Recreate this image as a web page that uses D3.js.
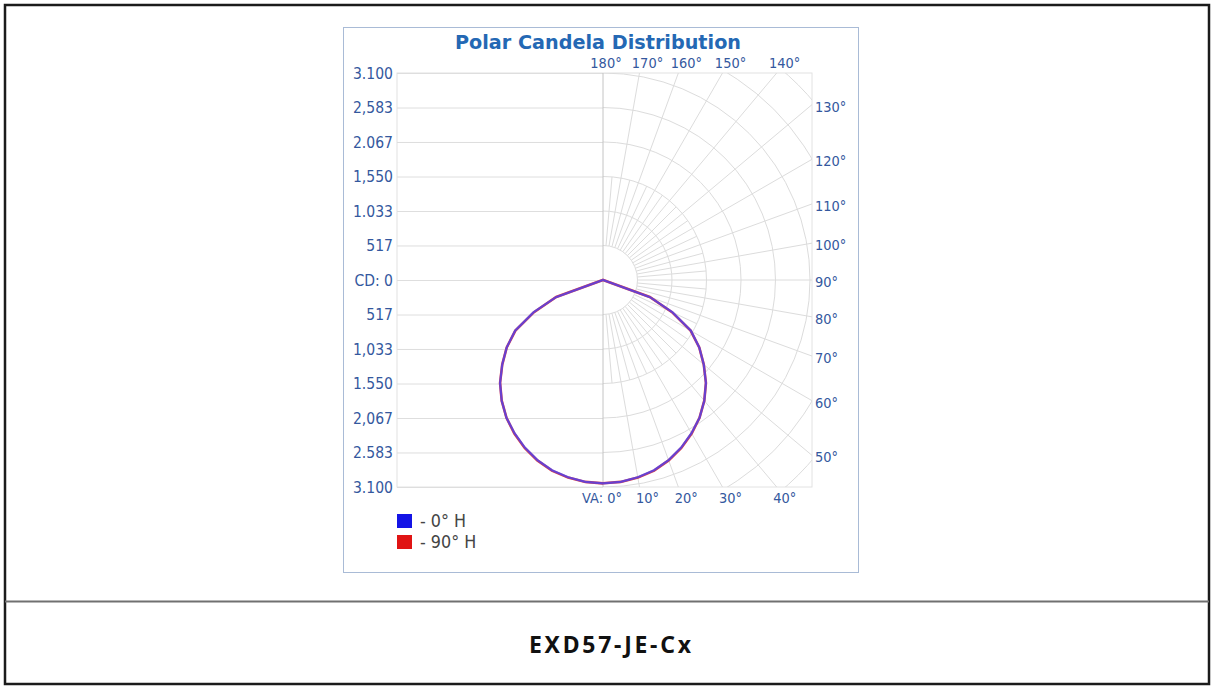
<!DOCTYPE html>
<html>
<head>
<meta charset="utf-8">
<script src="https://cdn.jsdelivr.net/npm/d3@7"></script>
<style>
  body { margin: 0; background: #fff; }
  svg { display: block; }
</style>
</head>
<body>
<div id="chart"></div>
<script>
// Polar candela distribution - EXD57-JE-Cx

// Vertical angles (deg) and candela values per horizontal plane
const vaAngles = [0, 5, 10, 15, 20, 25, 30, 35, 40, 45, 50, 55, 60, 65, 70, 75, 80, 85, 90,
  95, 100, 105, 110, 115, 120, 125, 130, 135, 140, 145, 150, 155, 160, 165, 170, 175, 180];
const cd0H = [3045, 3035, 3000, 2950, 2870, 2770, 2650, 2520, 2360, 2180, 1970, 1760, 1520, 1150, 750, 0, 0, 0, 0,
  0, 0, 0, 0, 0, 0, 0, 0, 0, 0, 0, 0, 0, 0, 0, 0, 0, 0];
const cd90H = [3045, 3035, 3005, 2955, 2875, 2775, 2655, 2520, 2360, 2180, 1970, 1760, 1515, 1140, 745, 0, 0, 0, 0,
  0, 0, 0, 0, 0, 0, 0, 0, 0, 0, 0, 0, 0, 0, 0, 0, 0, 0];

// Candela axis
const cdTickValues = [-3100, -2583, -2067, -1550, -1033, -517, 0, 517, 1033, 1550, 2067, 2583, 3100];
const cdTickLabels = ["3.100", "2,583", "2.067", "1,550", "1.033", "517", "CD: 0",
  "517", "1,033", "1.550", "2,067", "2.583", "3.100"];
const ringValues = [517, 1033, 1550, 2067, 2583, 3100, 3617, 4133];

// Angle labels
const angleTicks = [0, 10, 20, 30, 40, 50, 60, 70, 80, 90, 100, 110, 120, 130, 140, 150, 160, 170, 180];
const angleLabels = ["VA: 0°", "10°", "20°", "30°", "40°", "50°", "60°", "70°", "80°", "90°",
  "100°", "110°", "120°", "130°", "140°", "150°", "160°", "170°", "180°"];

const legendLabels = ["- 0° H", "- 90° H"];
const seriesColors = ["#4040ff", "#e04040"];
const legendColors = ["#1414e6", "#e01414"];

const W = 1213, H = 686;
const plot = { left: 397, right: 812, top: 73, bottom: 487 };
const labelColor = "#34589e";
const font = "'DejaVu Sans', Verdana, sans-serif";

const svg = d3.select("#chart").append("svg")
  .attr("width", W)
  .attr("height", H);

// Page frame
svg.append("rect")
  .attr("x", 5).attr("y", 5)
  .attr("width", 1204).attr("height", 679)
  .attr("fill", "#fff")
  .attr("stroke", "#1b1b1b")
  .attr("stroke-width", 2.5);

svg.append("line")
  .attr("x1", 5).attr("x2", 1209)
  .attr("y1", 601.5).attr("y2", 601.5)
  .attr("stroke", "#707070")
  .attr("stroke-width", 2);

svg.append("text")
  .attr("x", 610).attr("y", 653)
  .attr("text-anchor", "middle")
  .attr("textLength", 162)
  .attr("lengthAdjust", "spacing")
  .style("font-family", "'Noto Sans', 'Open Sans', sans-serif")
  .style("font-weight", "bold")
  .style("font-size", "23px")
  .style("fill", "#111")
  .text("EXD57-JE-Cx");

// Chart panel
svg.append("rect")
  .attr("x", 343.5).attr("y", 27.5)
  .attr("width", 515).attr("height", 545)
  .attr("fill", "#fff")
  .attr("stroke", "#a9bbd6");

// Title
svg.append("text")
  .attr("transform", "translate(598,49) scale(1,1.12)")
  .attr("text-anchor", "middle")
  .attr("textLength", 286)
  .attr("lengthAdjust", "spacingAndGlyphs")
  .style("font-family", font)
  .style("font-weight", "bold")
  .style("font-size", "18px")
  .style("fill", "#2468b4")
  .text("Polar Candela Distribution");

// Scales
const yScale = d3.scaleLinear().domain([-3100, 3100]).range([plot.top, plot.bottom]);
const rScale = d3.scaleLinear().domain([0, 3100]).range([0, yScale(3100) - yScale(0)]);
const cx = 603;
const cy = yScale(0);
const rad = (d) => d * Math.PI / 180;

// Plot border
svg.append("rect")
  .attr("x", plot.left).attr("y", plot.top)
  .attr("width", plot.right - plot.left)
  .attr("height", plot.bottom - plot.top)
  .attr("fill", "none")
  .attr("stroke", "#e2e2e2");

// Left half: horizontal candela grid
const leftGrid = svg.append("g")
  .attr("transform", `translate(${cx},0)`)
  .call(d3.axisLeft(yScale).tickValues(cdTickValues).tickSize(cx - plot.left).tickFormat(""));
leftGrid.select(".domain").remove();
leftGrid.selectAll("line").attr("stroke", "#dedede");

// Candela labels
const cdAxis = svg.append("g")
  .attr("transform", "translate(393,0)")
  .call(d3.axisLeft(yScale).tickValues(cdTickValues).tickSize(0).tickPadding(0)
    .tickFormat((d, i) => cdTickLabels[i]));
cdAxis.select(".domain").remove();
cdAxis.selectAll("text")
  .attr("transform", "scale(1,1.15)")
  .style("font-family", font)
  .style("font-size", "14px")
  .style("fill", labelColor);

// Right half: polar grid, clipped to the plot
svg.append("clipPath").attr("id", "rightHalf")
  .append("rect")
  .attr("x", cx).attr("y", plot.top)
  .attr("width", plot.right - cx)
  .attr("height", plot.bottom - plot.top);

const polar = svg.append("g").attr("clip-path", "url(#rightHalf)");

polar.selectAll("circle.ring")
  .data(ringValues)
  .join("circle")
  .attr("class", "ring")
  .attr("cx", cx).attr("cy", cy)
  .attr("r", (d) => rScale(d))
  .attr("fill", "none")
  .attr("stroke", "#dcdcdc");

// 10 degree spokes run to the edge, 5 degree spokes stay near the centre
const spokes = d3.range(5, 180, 5).map((a) => ({
  a: a,
  r0: rScale(ringValues[0]),
  r1: a % 10 === 0 ? 500 : rScale(ringValues[2])
}));

polar.selectAll("line.spoke")
  .data(spokes)
  .join("line")
  .attr("class", "spoke")
  .attr("x1", (d) => cx + d.r0 * Math.sin(rad(d.a)))
  .attr("y1", (d) => cy + d.r0 * Math.cos(rad(d.a)))
  .attr("x2", (d) => cx + d.r1 * Math.sin(rad(d.a)))
  .attr("y2", (d) => cy + d.r1 * Math.cos(rad(d.a)))
  .attr("stroke", "#dcdcdc");

// Centre vertical line
svg.append("line")
  .attr("x1", cx).attr("x2", cx)
  .attr("y1", plot.top).attr("y2", plot.bottom)
  .attr("stroke", "#c4c4c4");

// Angle labels where each spoke meets the plot edge
function edgePoint(a) {
  const s = Math.sin(rad(a)), c = Math.cos(rad(a));
  let t = Infinity, side = "right";
  if (c > 1e-9) { t = (plot.bottom - cy) / c; side = "bottom"; }
  if (c < -1e-9) { t = (plot.top - cy) / c; side = "top"; }
  if (s > 1e-9 && (plot.right - cx) / s < t) { t = (plot.right - cx) / s; side = "right"; }
  return { x: cx + t * s, y: cy + t * c, side: side };
}

const angleG = svg.append("g")
  .style("font-family", font)
  .style("font-size", "13px")
  .style("fill", labelColor);

angleTicks.forEach((a, i) => {
  const p = edgePoint(a);
  let x = p.x, y = p.y, anchor = "middle";
  if (p.side === "bottom") {
    y = plot.bottom + 16;
    if (a === 0) { x += 19; anchor = "end"; } else { x += 8; }
  } else if (p.side === "top") {
    y = plot.top - 5;
    x += a === 180 ? 3 : 8;
  } else {
    x = plot.right + 3;
    y = p.y + 7;
    anchor = "start";
  }
  angleG.append("text")
    .attr("transform", `translate(${x},${y}) scale(1,1.12)`)
    .attr("text-anchor", anchor)
    .text(angleLabels[i]);
});

// Candela curves (each plane mirrored to the left half)
function curvePoints(values) {
  const right = vaAngles.map((t, i) => ({ a: Math.PI - rad(t), v: values[i] }));
  const left = vaAngles.map((t, i) => ({ a: Math.PI + rad(t), v: values[i] })).reverse();
  return right.concat(left);
}

const radial = d3.lineRadial()
  .angle((d) => d.a)
  .radius((d) => rScale(d.v))
  .curve(d3.curveLinearClosed);

const curves = svg.append("g").attr("transform", `translate(${cx},${cy})`);

curves.append("path")
  .attr("d", radial(curvePoints(cd90H)))
  .attr("fill", "none")
  .attr("stroke", seriesColors[1])
  .attr("stroke-width", 2.6);

curves.append("path")
  .attr("d", radial(curvePoints(cd0H)))
  .attr("fill", "none")
  .attr("stroke", seriesColors[0])
  .attr("stroke-width", 2.2)
  .attr("stroke-opacity", 0.75);

// Legend
const legend = svg.append("g")
  .selectAll("g")
  .data(legendLabels)
  .join("g")
  .attr("transform", (d, i) => `translate(397,${514 + i * 21})`);

legend.append("rect")
  .attr("width", 15).attr("height", 14)
  .attr("fill", (d, i) => legendColors[i]);

legend.append("text")
  .attr("transform", "translate(23,13) scale(1,1.1)")
  .style("font-family", font)
  .style("font-size", "16px")
  .style("fill", "#444")
  .text((d) => d);
</script>
</body>
</html>
